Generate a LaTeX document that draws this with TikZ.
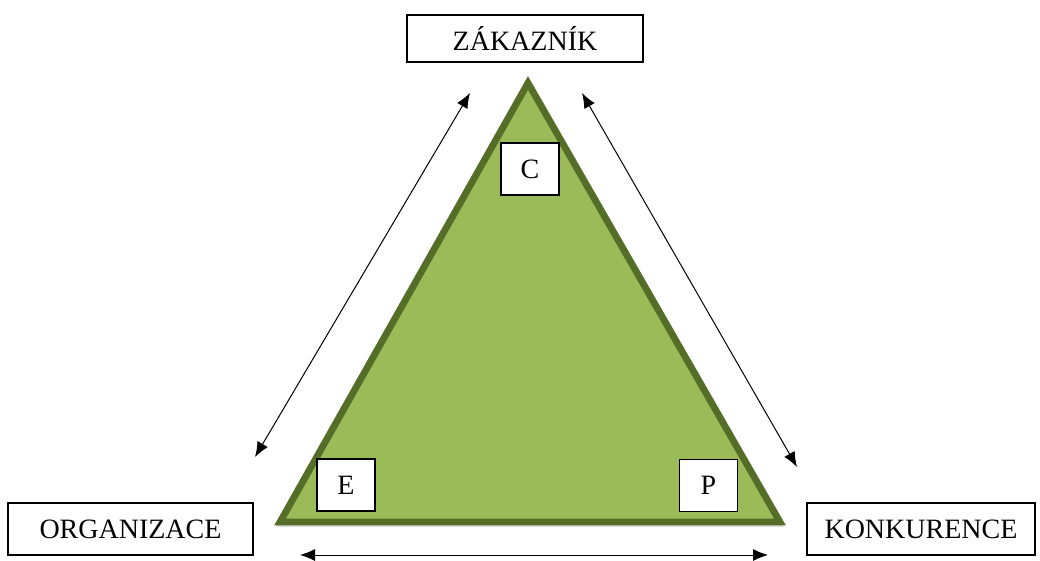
\documentclass[tikz,border=0pt]{standalone}
\usepackage{fontspec}
\setmainfont{Liberation Serif}
\usepackage{xcolor}
\usetikzlibrary{arrows.meta,positioning,calc}
\definecolor{trifill}{RGB}{155,187,89}
\definecolor{triline}{RGB}{84,110,40}

\begin{document}
\begin{tikzpicture}[
  x=0.5pt, y=-0.5pt,
  box/.style={draw, line width=0.65pt, fill=white, inner sep=0pt,
              font=\fontsize{14}{16}\selectfont},
  corner/.style={box, minimum width=29pt, minimum height=26pt},
  arrow/.style={{Latex[length=7.5pt,width=6pt]}-{Latex[length=7.5pt,width=6pt]}, line width=0.5pt}
]
\useasboundingbox (0,0) rectangle (1040,561);
% triangle
\coordinate (top) at (528,83);
\coordinate (bl)  at (280,522);
\coordinate (br)  at (780,522);
\fill[black!25, opacity=0.6] ($(bl)+(-4,5)$) -- ($(br)+(4,5)$) -- ($(top)+(0,5)$) -- cycle;
\draw[fill=trifill, draw=triline, line width=3.4pt, line join=miter] (top) -- (bl) -- (br) -- cycle;
% labels
\node[box, minimum width=118pt, minimum height=23.5pt] (zak) at (525,38.5) {ZÁKAZNÍK};
\node[box, minimum width=122.5pt, minimum height=26pt] (org) at (130.5,529) {ORGANIZACE};
\node[box, minimum width=114pt, minimum height=26pt] (kon) at (921,529) {KONKURENCE};
\node[corner] (C) at (530,169) {C};
\node[corner] (E) at (346,485) {E};
\node[corner] (P) at (708.5,485.5) {P};
% arrows
\coordinate (a1) at (255,457);
\coordinate (a2) at (470,93);
\coordinate (b1) at (582,93);
\coordinate (b2) at (797,467);
\coordinate (c1) at (300,555);
\coordinate (c2) at (768,555);
\draw[arrow] (a1) -- (a2);
\draw[arrow] (b1) -- (b2);
\draw[arrow] (c1) -- (c2);
\end{tikzpicture}
\end{document}
